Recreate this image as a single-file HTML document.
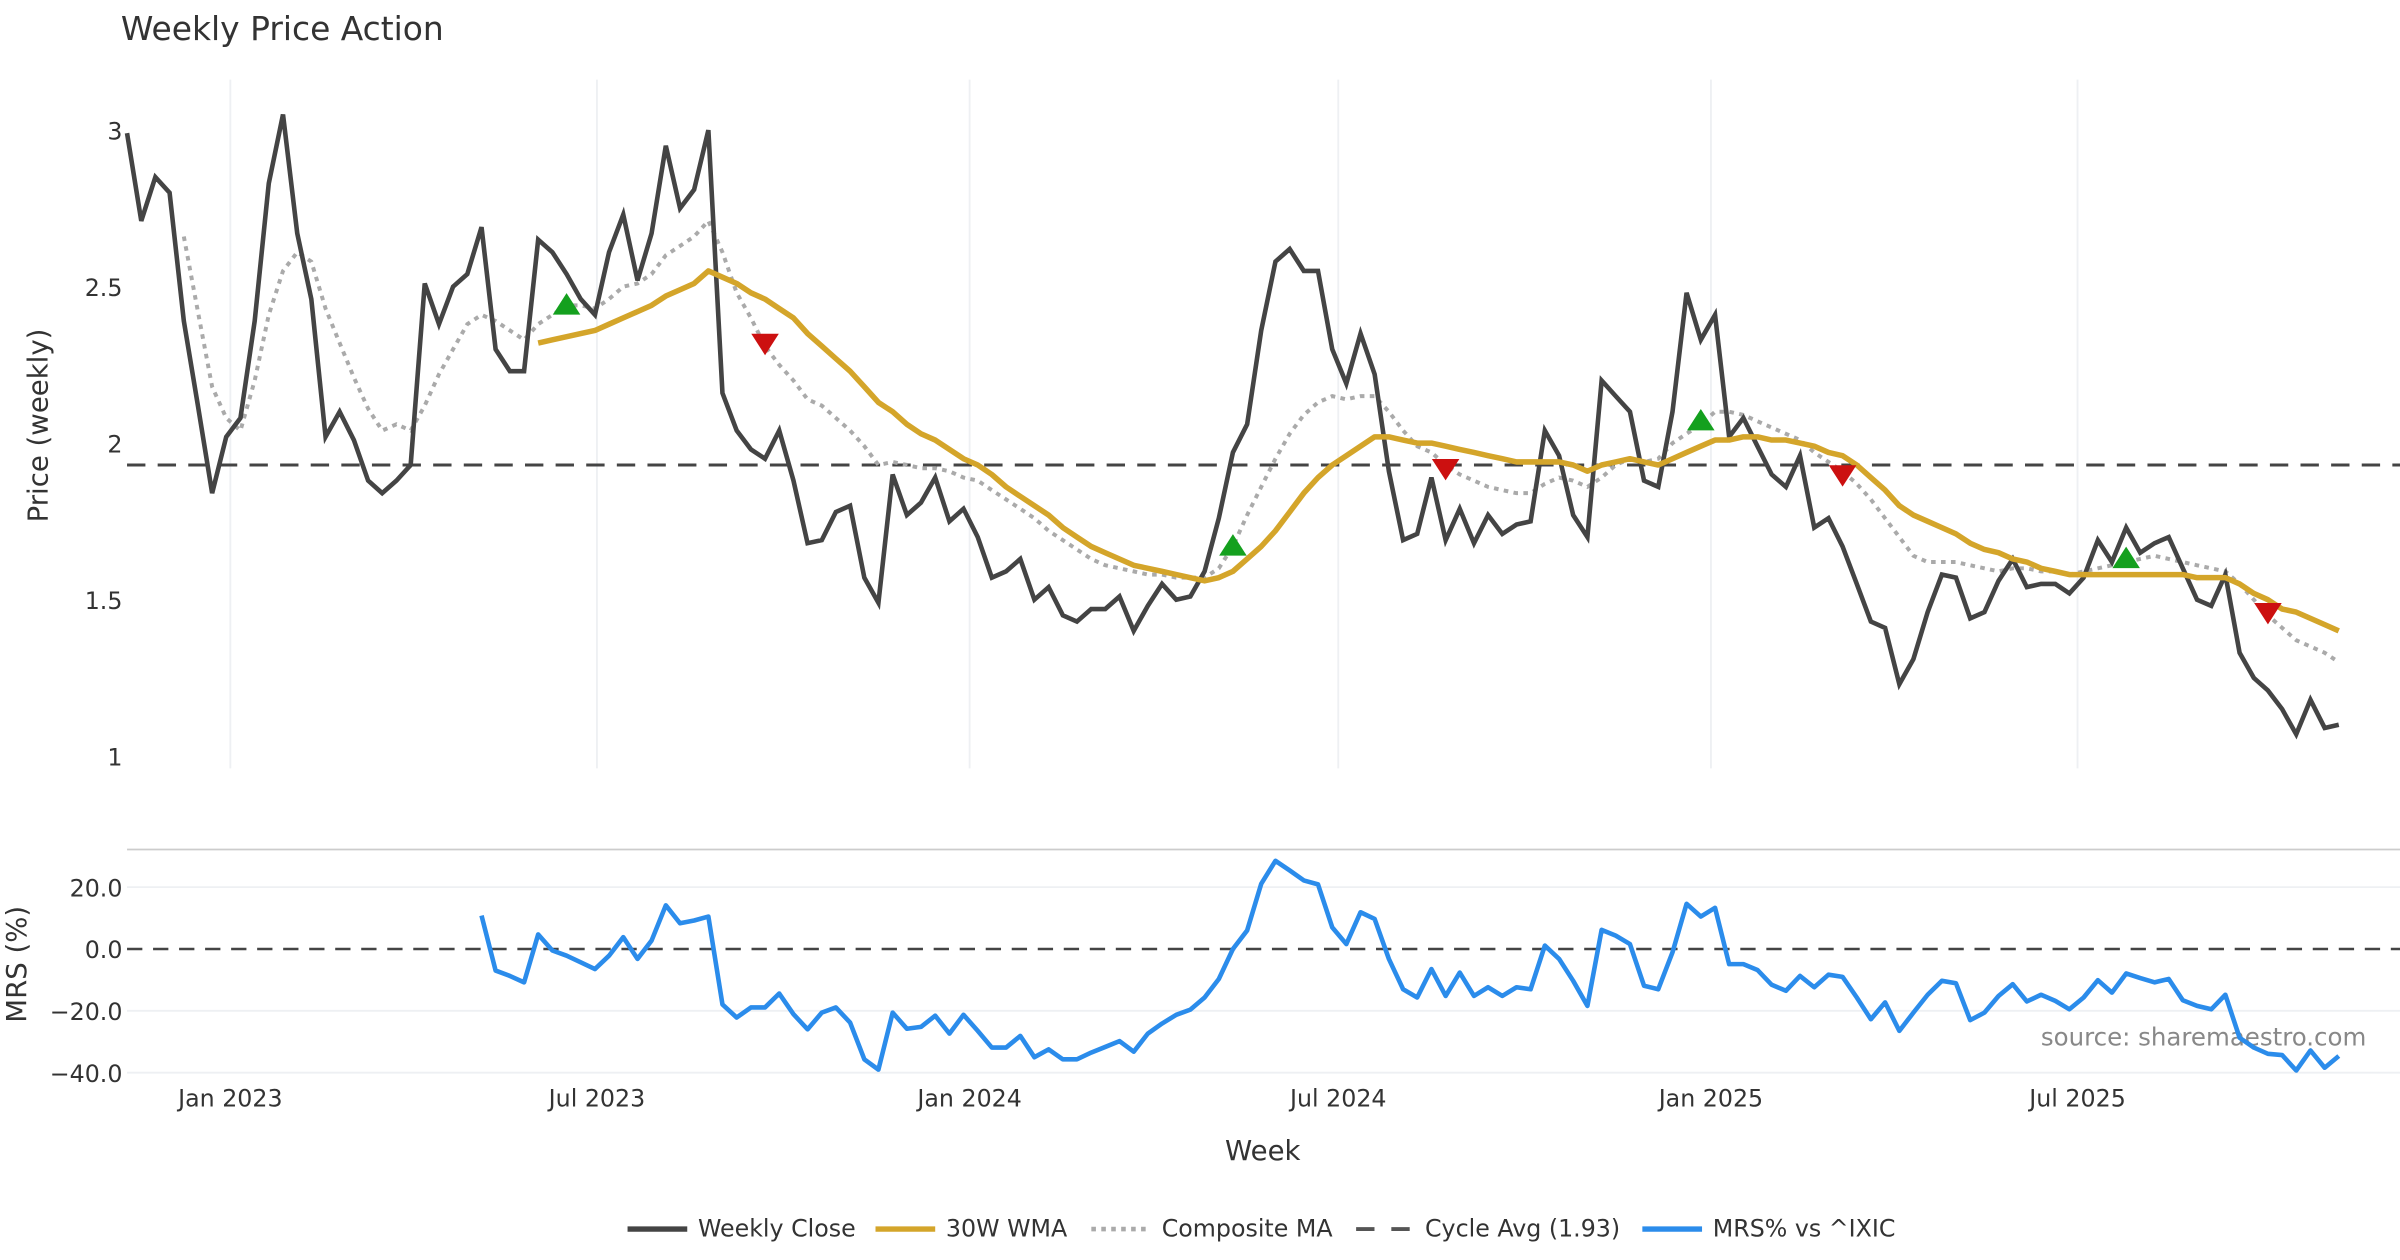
<!DOCTYPE html>
<html><head><meta charset="utf-8"><style>
html,body{margin:0;padding:0;background:#fff;}
svg{display:block;font-family:"DejaVu Sans","Liberation Sans",sans-serif;}
</style></head><body>
<svg id="chart" width="2400" height="1260" viewBox="0 0 1568 823.2" preserveAspectRatio="none" xmlns="http://www.w3.org/2000/svg">
<text x="79" y="26" font-size="21.5" fill="#333">Weekly Price Action</text>
<text transform="translate(31,278) rotate(-90)" text-anchor="middle" font-size="18" fill="#333">Price (weekly)</text>
<text transform="translate(17,630) rotate(-90)" text-anchor="middle" font-size="18" fill="#333">MRS (%)</text>
<text x="825" y="758" text-anchor="middle" font-size="18" fill="#333">Week</text>
<text x="1546" y="683" text-anchor="end" font-size="16" fill="#888">source: sharemaestro.com</text>
<line x1="83" x2="1568" y1="555" y2="555" stroke="#ccc" stroke-width="1.2"/>
<g id="grid"></g><g id="series"></g><g id="axes"></g>
<g id="legend">
 <line x1="410" x2="449" y1="803" y2="803" stroke="#444" stroke-width="3.5"/>
 <text x="456" y="808" font-size="15.5" fill="#333">Weekly Close</text>
 <line x1="572" x2="611" y1="803" y2="803" stroke="#d4a52a" stroke-width="3.5"/>
 <text x="618" y="808" font-size="15.5" fill="#333">30W WMA</text>
 <line x1="713" x2="750" y1="803" y2="803" stroke="#aaa" stroke-width="3" stroke-dasharray="3,3.5"/>
 <text x="759" y="808" font-size="15.5" fill="#333">Composite MA</text>
 <line x1="886" x2="921" y1="803" y2="803" stroke="#555" stroke-width="2.5" stroke-dasharray="12,11"/>
 <text x="931" y="808" font-size="15.5" fill="#333">Cycle Avg (1.93)</text>
 <line x1="1073" x2="1112" y1="803" y2="803" stroke="#2b8ceb" stroke-width="3.5"/>
 <text x="1119" y="808" font-size="15.5" fill="#333">MRS% vs ^IXIC</text>
</g>
</svg>
<script>
const startDate = "2022-11-11";
const closeVals = [2.99,2.71,2.85,2.80,2.39,2.12,1.84,2.02,2.08,2.39,2.83,3.05,2.67,2.46,2.02,2.10,2.01,1.88,1.84,1.88,1.93,2.51,2.38,2.50,2.54,2.69,2.30,2.23,2.23,2.65,2.61,2.54,2.46,2.41,2.61,2.73,2.52,2.67,2.95,2.75,2.81,3.00,2.16,2.04,1.98,1.95,2.04,1.88,1.68,1.69,1.78,1.80,1.57,1.49,1.90,1.77,1.81,1.89,1.75,1.79,1.70,1.57,1.59,1.63,1.50,1.54,1.45,1.43,1.47,1.47,1.51,1.40,1.48,1.55,1.50,1.51,1.59,1.76,1.97,2.06,2.36,2.58,2.62,2.55,2.55,2.30,2.19,2.35,2.22,1.91,1.69,1.71,1.89,1.69,1.79,1.68,1.77,1.71,1.74,1.75,2.04,1.96,1.77,1.70,2.20,2.15,2.10,1.88,1.86,2.10,2.48,2.33,2.41,2.02,2.08,1.99,1.90,1.86,1.96,1.73,1.76,1.67,1.55,1.43,1.41,1.23,1.31,1.46,1.58,1.57,1.44,1.46,1.56,1.63,1.54,1.55,1.55,1.52,1.57,1.69,1.62,1.73,1.65,1.68,1.70,1.60,1.50,1.48,1.58,1.33,1.25,1.21,1.15,1.07,1.18,1.09,1.10];
const wmaVals = [null,null,null,null,null,null,null,null,null,null,null,null,null,null,null,null,null,null,null,null,null,null,null,null,null,null,null,null,null,2.32,2.33,2.34,2.35,2.36,2.38,2.40,2.42,2.44,2.47,2.49,2.51,2.55,2.53,2.51,2.48,2.46,2.43,2.40,2.35,2.31,2.27,2.23,2.18,2.13,2.10,2.06,2.03,2.01,1.98,1.95,1.93,1.90,1.86,1.83,1.80,1.77,1.73,1.70,1.67,1.65,1.63,1.61,1.60,1.59,1.58,1.57,1.56,1.57,1.59,1.63,1.67,1.72,1.78,1.84,1.89,1.93,1.96,1.99,2.02,2.02,2.01,2.00,2.00,1.99,1.98,1.97,1.96,1.95,1.94,1.94,1.94,1.94,1.93,1.91,1.93,1.94,1.95,1.94,1.93,1.95,1.97,1.99,2.01,2.01,2.02,2.02,2.01,2.01,2.00,1.99,1.97,1.96,1.93,1.89,1.85,1.80,1.77,1.75,1.73,1.71,1.68,1.66,1.65,1.63,1.62,1.60,1.59,1.58,1.58,1.58,1.58,1.58,1.58,1.58,1.58,1.58,1.57,1.57,1.57,1.55,1.52,1.50,1.47,1.46,1.44,1.42,1.40];
const compVals = [null,null,null,null,2.66,2.42,2.18,2.08,2.04,2.20,2.41,2.55,2.61,2.58,2.43,2.32,2.21,2.11,2.04,2.06,2.04,2.12,2.22,2.30,2.38,2.41,2.39,2.36,2.33,2.38,2.41,2.44,2.44,2.43,2.46,2.50,2.51,2.54,2.60,2.63,2.66,2.71,2.61,2.48,2.40,2.31,2.25,2.20,2.14,2.12,2.08,2.04,1.99,1.93,1.94,1.93,1.92,1.92,1.91,1.89,1.88,1.85,1.82,1.79,1.76,1.72,1.69,1.66,1.63,1.61,1.60,1.59,1.58,1.58,1.57,1.57,1.57,1.60,1.67,1.77,1.86,1.95,2.03,2.09,2.13,2.15,2.14,2.15,2.15,2.10,2.04,1.99,1.97,1.93,1.90,1.88,1.86,1.85,1.84,1.84,1.87,1.89,1.88,1.86,1.89,1.93,1.95,1.94,1.95,2.00,2.03,2.06,2.10,2.10,2.09,2.07,2.05,2.03,2.01,1.97,1.94,1.91,1.87,1.82,1.76,1.70,1.64,1.62,1.62,1.62,1.61,1.60,1.59,1.60,1.60,1.59,1.59,1.58,1.59,1.60,1.61,1.62,1.63,1.64,1.63,1.62,1.61,1.60,1.59,1.55,1.50,1.45,1.41,1.37,1.35,1.33,1.30];
const mrsVals = [null,null,null,null,null,null,null,null,null,null,null,null,null,null,null,null,null,null,null,null,null,null,null,null,null,10.8,-7,-8.7,-10.8,4.7,-0.5,-2.2,-4.3,-6.5,-2.2,3.8,-3.2,2.7,14.1,8.3,9.2,10.5,-17.9,-22.2,-18.9,-18.9,-14.4,-21.1,-26,-20.6,-18.9,-23.8,-35.7,-39,-20.6,-25.8,-25.2,-21.6,-27.4,-21.3,-26.5,-31.9,-31.9,-28.1,-35,-32.5,-35.7,-35.7,-33.5,-31.7,-29.8,-33.2,-27.4,-24.1,-21.3,-19.6,-15.7,-9.7,0,6,21.1,28.5,25.4,22.2,20.9,7,1.6,11.9,9.7,-3.2,-13,-15.7,-6.5,-15.2,-7.6,-15.2,-12.4,-15.2,-12.4,-13,1.1,-3.2,-10.3,-18.4,6.2,4.3,1.6,-11.9,-13,-1.1,14.6,10.5,13.3,-4.9,-4.9,-6.8,-11.6,-13.5,-8.7,-12.4,-8.3,-9,-15.7,-22.7,-17.3,-26.5,-20.6,-14.8,-10.3,-11.1,-23,-20.6,-15.2,-11.4,-17,-14.8,-16.8,-19.5,-15.7,-10.1,-14.1,-7.9,-9.4,-10.8,-9.7,-16.6,-18.4,-19.5,-14.8,-28.7,-31.9,-33.9,-34.3,-39.3,-32.8,-38.4,-34.6];
const cycleAvg = 1.93;
const buyIdx = [31,78,111,141];
const buyVals = [2.44,1.67,2.07,1.63];
const sellIdx = [45,93,121,151];
const sellVals = [2.32,1.92,1.90,1.46];
const priceTicks = [1,1.5,2,2.5,3];
const priceTickLabels = ["1","1.5","2","2.5","3"];
const mrsTicks = [20,0,-20,-40];
const mrsTickLabels = ["20.0","0.0","\u221220.0","\u221240.0"];
const dateTicks = ["2023-01-01","2023-07-01","2024-01-01","2024-07-01","2025-01-01","2025-07-01"];
const dateTickLabels = ["Jan 2023","Jul 2023","Jan 2024","Jul 2024","Jan 2025","Jul 2025"];

const NS="http://www.w3.org/2000/svg";
const t0=Date.parse(startDate);
const WEEKPX=9.263;
function xIdx(i){return 83+i*WEEKPX;}
function xDate(d){return 83+(Date.parse(d)-t0)/(7*864e5)*WEEKPX;}
function yP(v){return 494-(v-1)*204.5;}
function yM(v){return 620-v*2.02;}
function mk(tag,attrs,parent){const e=document.createElementNS(NS,tag);for(const k in attrs)e.setAttribute(k,attrs[k]);parent.appendChild(e);return e;}
const grid=document.getElementById('grid'),series=document.getElementById('series'),axes=document.getElementById('axes');

dateTicks.forEach((d,k)=>{
  const x=xDate(d);
  const g=mk('line',{x1:x,x2:x,y1:52,y2:502,stroke:'#eef0f3','stroke-width':1.2},grid);
  
  
  const t=mk('text',{x:x,y:723,'text-anchor':'middle','font-size':15.5,fill:'#333'},axes);
  t.textContent=dateTickLabels[k];
  
  
});
priceTicks.forEach((v,k)=>{
  const t=mk('text',{x:80,y:yP(v)+6,'text-anchor':'end','font-size':15.5,fill:'#333'},axes);
  t.textContent=priceTickLabels[k];
  
  
});
mrsTicks.forEach((v,k)=>{
  if(v!==0){const g=mk('line',{x1:83,x2:1568,y1:yM(v),y2:yM(v),stroke:'#eef0f3','stroke-width':1.2},grid);
  
  }
  const t=mk('text',{x:80,y:yM(v)+6,'text-anchor':'end','font-size':15.5,fill:'#333'},axes);
  t.textContent=mrsTickLabels[k];
  
  
});
const cyc=mk('line',{x1:83,x2:1568,y1:yP(cycleAvg),y2:yP(cycleAvg),stroke:'#444','stroke-width':2,'stroke-dasharray':'12,8'},series);


const zero=mk('line',{x1:83,x2:1568,y1:yM(0),y2:yM(0),stroke:'#444','stroke-width':1.6,'stroke-dasharray':'10,7'},series);



function pathOf(vals,yf){let d='',pen=false;vals.forEach((v,i)=>{if(v===null){pen=false;return;}d+=(pen?'L':'M')+xIdx(i).toFixed(1)+','+yf(v).toFixed(1);pen=true;});return d;}
const comp=mk('path',{d:pathOf(compVals,yP),fill:'none',stroke:'#aaa','stroke-width':2.6,'stroke-dasharray':'3,3.5'},series);


const cl=mk('path',{d:pathOf(closeVals,yP),fill:'none',stroke:'#444','stroke-width':3,'stroke-linejoin':'miter'},series);


const wma=mk('path',{d:pathOf(wmaVals,yP),fill:'none',stroke:'#d4a52a','stroke-width':3.6,'stroke-linejoin':'round'},series);


const mrs=mk('path',{d:pathOf(mrsVals,yM),fill:'none',stroke:'#2b8ceb','stroke-width':3,'stroke-linejoin':'round'},series);



buyIdx.forEach((i,k)=>{
  const x=xIdx(i),y=yP(buyVals[k]);
  const p=mk('polygon',{points:`${x-9},${y+6} ${x+9},${y+6} ${x},${y-8}`,fill:'#14a01e'},series);
  
  
});
sellIdx.forEach((i,k)=>{
  const x=xIdx(i),y=yP(sellVals[k]);
  const p=mk('polygon',{points:`${x-9},${y-6} ${x+9},${y-6} ${x},${y+8}`,fill:'#cc1010'},series);
  
  
});
</script>
</body></html>
